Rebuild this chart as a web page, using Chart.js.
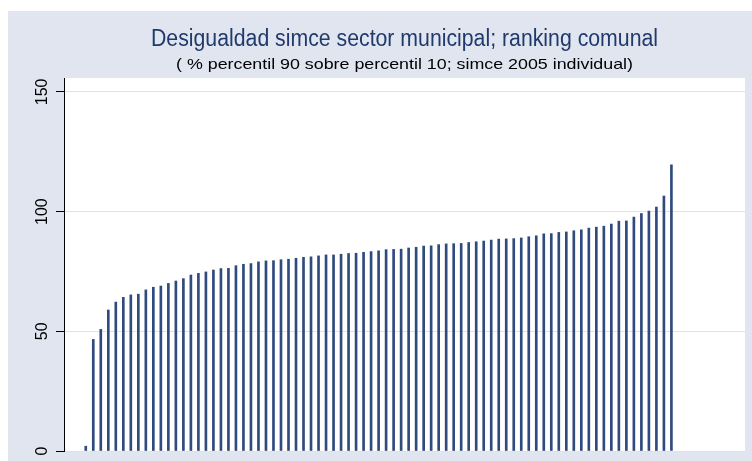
<html>

<head>
    <title>
        Desigualdad simce
    </title>
    <script src="https://cdn.jsdelivr.net/npm/chart.js"></script>
    <style>
        body {
            margin: 0;
            background: #fff;
        }

        #wrap {
            width: 752px;
            height: 461px;
        }
    </style>
</head>

<body>
    <div id="wrap"><canvas id="myChart" width="752" height="461"></canvas></div>

    <script>
        const titleText = 'Desigualdad simce sector municipal; ranking comunal'
        const subtitleText = '( % percentil 90 sobre percentil 10; simce 2005 individual)'

        // position in the ranking (one per comuna)
        const ranks = [1, 2, 3, 4, 5, 6, 7, 8, 9, 10, 11, 12, 13, 14, 15, 16, 17, 18, 19, 20,
            21, 22, 23, 24, 25, 26, 27, 28, 29, 30, 31, 32, 33, 34, 35, 36, 37, 38, 39, 40,
            41, 42, 43, 44, 45, 46, 47, 48, 49, 50, 51, 52, 53, 54, 55, 56, 57, 58, 59, 60,
            61, 62, 63, 64, 65, 66, 67, 68, 69, 70, 71, 72, 73, 74, 75, 76, 77, 78, 79]

        // p90 / p10 (%)
        const values = [2.0, 46.6, 50.8, 58.9, 62.2, 64.2, 65.2, 65.5, 67.3, 68.4,
            68.9, 70.0, 71.0, 72.0, 73.5, 74.2, 74.8, 75.6, 76.2, 76.3,
            77.4, 78.0, 78.3, 79.0, 79.4, 79.5, 79.9, 80.1, 80.5, 80.9,
            81.1, 81.5, 81.9, 81.9, 82.2, 82.5, 82.6, 83.0, 83.3, 83.6,
            84.1, 84.2, 84.3, 84.8, 85.1, 85.6, 85.7, 86.2, 86.5, 86.6,
            86.7, 87.1, 87.4, 87.7, 88.1, 88.5, 88.6, 88.7, 89.0, 89.5,
            89.9, 90.7, 90.8, 91.3, 91.5, 92.0, 92.4, 93.1, 93.5, 93.9,
            94.8, 96.0, 96.1, 97.7, 99.2, 100.2, 101.9, 106.5, 119.5]

        const yTicks = [0, 50, 100, 150]

        const BG = '#e1e5f0'
        const NAVY = '#2f4a7c'

        // stata style background + titles
        const stataLook = {
            id: 'stataLook',
            beforeDraw(chart) {
                const c = chart.ctx
                const a = chart.chartArea
                c.save()
                c.fillStyle = '#fff'
                c.fillRect(0, 0, chart.width, chart.height)
                c.fillStyle = BG
                c.fillRect(8, 11, chart.width - 8, chart.height - 11)
                c.fillStyle = '#fff'
                c.fillRect(a.left, a.top, a.right - a.left, a.bottom - a.top)
                c.restore()
            },
            afterDraw(chart) {
                const c = chart.ctx
                const a = chart.chartArea
                const cx = (a.left + a.right) / 2
                drawFit(c, titleText, cx, 40, 507, '23px "Liberation Sans"', '#1f3a6b')
                drawFit(c, subtitleText, cx, 65, 457, '15px "Liberation Sans"', '#000')
            }
        }

        function drawFit(c, text, x, y, w, font, color) {
            c.save()
            c.font = font
            c.fillStyle = color
            c.textAlign = 'center'
            c.textBaseline = 'middle'
            const sx = w / c.measureText(text).width
            c.translate(x, y)
            c.scale(sx, 1)
            c.fillText(text, 0, 0)
            c.restore()
        }

        var ctx = document.getElementById('myChart').getContext('2d')

        var myChart = new Chart(ctx, {
            type: 'bar',
            data: {
                labels: ranks,
                datasets: [{
                    data: values,
                    backgroundColor: NAVY,
                    borderWidth: 0,
                    barThickness: 2
                }]
            },
            plugins: [stataLook],
            options: {
                responsive: false,
                animation: false,
                layout: { padding: { left: 8, right: 7, top: 78, bottom: 10 } },
                plugins: {
                    legend: { display: false },
                    tooltip: { enabled: false }
                },
                scales: {
                    x: { type: 'linear', display: false, offset: false, min: -1.9, max: 88.8 },
                    y: {
                        min: 0,
                        max: 155.8,
                        afterFit: s => { s.width = 56 },
                        afterBuildTicks: s => { s.ticks = yTicks.map(v => ({ value: v })) },
                        ticks: {
                            minRotation: 90,
                            maxRotation: 90,
                            crossAlign: 'center',
                            padding: 0,
                            autoSkip: false,
                            color: '#000',
                            font: { family: 'Liberation Sans', size: 16 }
                        },
                        grid: { color: '#dce2f0', tickColor: '#000', tickLength: 8 },
                        border: { display: true, color: '#000', width: 1 }
                    }
                }
            }
        })
    </script>
</body>

</html>
